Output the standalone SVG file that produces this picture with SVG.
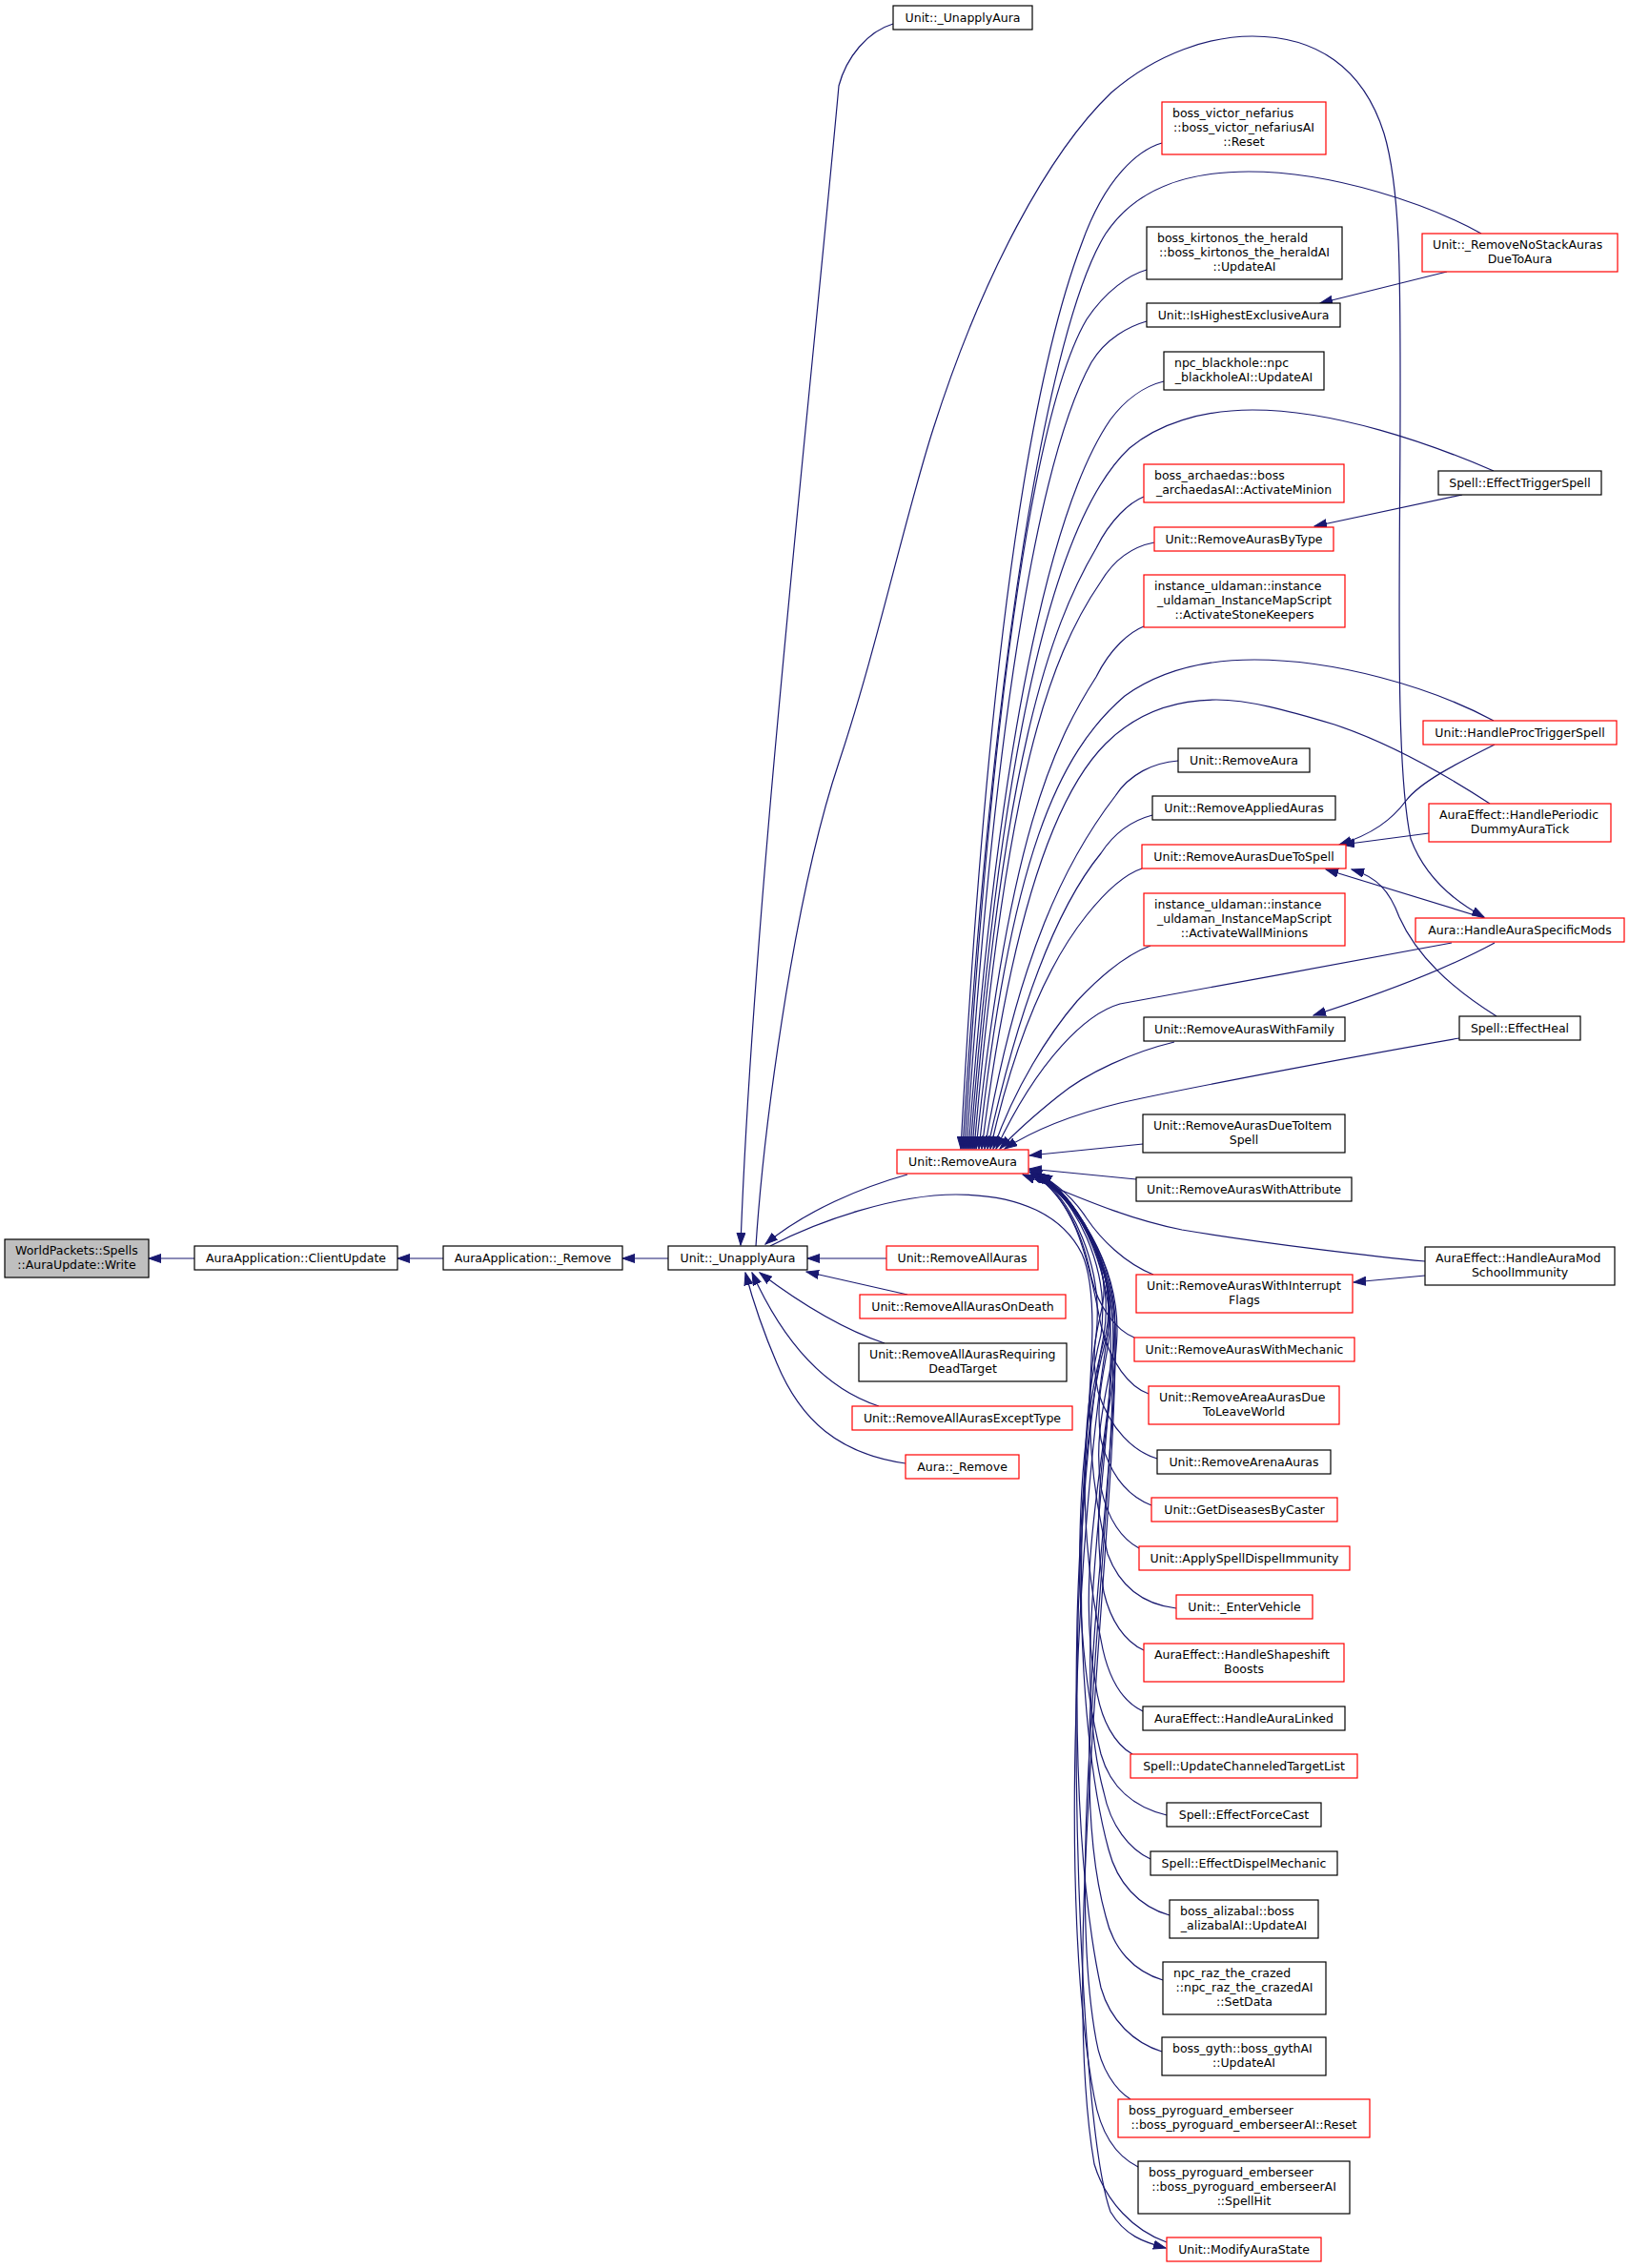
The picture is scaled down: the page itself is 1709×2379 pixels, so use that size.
<svg xmlns="http://www.w3.org/2000/svg" width="1709" height="2379" viewBox="0 0 1709 2379">
<style>
rect.b{fill:#fff;stroke:#000;stroke-width:1.2}
rect.r{fill:#fff;stroke:#f00;stroke-width:1.2}
rect.g{fill:#bfbfbf;stroke:#000;stroke-width:1.2}
text{font-family:'DejaVu Sans','Liberation Sans',sans-serif;font-size:12.5px;fill:#000}
.m{text-anchor:middle}
.s{text-anchor:start}
#edges path{fill:none;stroke:#191970;stroke-width:1.2;marker-end:url(#a)}
</style>
<defs>
<marker id="a" markerUnits="userSpaceOnUse" markerWidth="14" markerHeight="10" refX="13" refY="5" orient="auto">
<path d="M0,0.5 L13,5 L0,9.5 Z" fill="#191970" stroke="#191970" stroke-width="1"/>
</marker>
</defs>
<rect width="1709" height="2379" fill="#fff"/>
<g id="edges">
<path d="M204,1320 L156,1320"/>
<path d="M465,1320 L417,1320"/>
<path d="M701,1320 L653,1320"/>
<path d="M930,1320 L847,1320"/>
<path d="M952,1358 L846,1334"/>
<path d="M928,1409 C895,1398 850,1375 797,1335"/>
<path d="M922,1475 C870,1458 825,1415 789,1335"/>
<path d="M950,1535 C880,1525 840,1490 815,1430 C800,1395 790,1365 782,1335"/>
<path d="M952,1232 C905,1245 845,1270 803,1305"/>
<path d="M937,25 C910,33 888,60 880,90 C850,420 790,950 777,1306"/>
<path d="M793,1307 C800,1200 830,950 880,800 C920,680 950,540 979,450 C1030,290 1100,160 1166,97 C1215,55 1270,38 1314,38 C1380,38 1430,70 1452,140 C1470,200 1469,300 1469,420 C1469,600 1463,800 1480,880 C1495,920 1525,945 1557,962"/>
<path d="M808,1307 C860,1280 940,1253 1003,1253 C1070,1253 1115,1275 1135,1315 C1160,1370 1135,1500 1130,1700 C1125,1950 1140,2250 1165,2320 C1180,2345 1200,2352 1223,2358"/>
<path d="M1219,150 C1195,157 1160,185 1135,255 C1080,400 1035,700 1008,1205"/>
<path d="M1554,245 C1500,215 1400,180 1310,180 C1240,180 1190,200 1160,245 C1100,340 1040,700 1010,1205"/>
<path d="M1203,283 C1185,288 1160,305 1140,335 C1090,420 1042,700 1012,1205"/>
<path d="M1203,337 C1185,342 1160,355 1145,380 C1095,470 1045,720 1014,1205"/>
<path d="M1221,400 C1200,405 1180,420 1165,440 C1110,520 1050,740 1016,1205"/>
<path d="M1567,494 C1500,465 1400,430 1314,430 C1260,430 1215,445 1185,470 C1110,540 1052,760 1018,1205"/>
<path d="M1200,521 C1185,527 1165,545 1150,575 C1100,660 1052,800 1020,1205"/>
<path d="M1211,569 C1190,573 1170,585 1155,610 C1100,690 1055,820 1022,1205"/>
<path d="M1200,657 C1185,663 1165,680 1150,710 C1105,780 1058,880 1024,1205"/>
<path d="M1567,756 C1500,720 1400,692 1316,692 C1260,692 1215,705 1180,730 C1110,790 1060,900 1027,1205"/>
<path d="M1563,843 C1520,815 1460,780 1400,760 C1350,745 1310,734 1276,734 C1230,734 1190,750 1160,780 C1110,830 1062,950 1030,1205"/>
<path d="M1236,798 C1210,800 1185,812 1170,835 C1120,900 1068,1000 1033,1205"/>
<path d="M1209,855 C1190,860 1170,872 1155,895 C1110,950 1070,1050 1036,1205"/>
<path d="M1198,911 C1180,917 1160,935 1140,960 C1100,1010 1065,1090 1039,1205"/>
<path d="M1207,992 C1185,1000 1160,1018 1130,1050 C1100,1085 1065,1140 1042,1205"/>
<path d="M1523,989 C1450,1002 1250,1040 1175,1053 C1140,1063 1090,1110 1045,1205"/>
<path d="M1232,1093 C1190,1103 1140,1125 1110,1150 C1085,1170 1065,1188 1049,1205"/>
<path d="M1531,1089 C1450,1103 1250,1140 1175,1157 C1130,1168 1085,1185 1054,1205"/>
<path d="M1199,1200 L1080,1212"/>
<path d="M1192,1237 L1080,1226"/>
<path d="M1495,1323 C1450,1319 1330,1305 1240,1290 C1180,1278 1130,1255 1073,1232"/>
<path d="M1210,1337 C1180,1325 1155,1300 1140,1278 C1125,1255 1105,1238 1080,1227"/>
<path d="M1190,1403 C1170,1395 1152,1370 1145,1340 C1135,1290 1115,1250 1080,1229"/>
<path d="M1205,1462 C1185,1455 1165,1430 1155,1390 C1140,1310 1125,1255 1081,1230"/>
<path d="M1214,1530 C1190,1523 1165,1500 1152,1460 C1140,1400 1160,1380 1158,1350 C1155,1300 1125,1255 1082,1231"/>
<path d="M1208,1579 C1185,1570 1165,1550 1155,1510 C1147,1460 1165,1420 1165,1385 C1165,1320 1125,1252 1083,1231"/>
<path d="M1195,1624 C1178,1615 1162,1595 1155,1560 C1145,1490 1170,1440 1170,1390 C1170,1320 1125,1252 1084,1231"/>
<path d="M1234,1687 C1200,1683 1175,1665 1162,1630 C1140,1540 1140,1460 1150,1400 C1158,1330 1125,1255 1085,1231"/>
<path d="M1200,1731 C1180,1722 1165,1700 1158,1670 C1140,1560 1172,1460 1172,1395 C1172,1325 1128,1255 1086,1231"/>
<path d="M1199,1795 C1178,1785 1162,1760 1155,1720 C1130,1600 1135,1480 1155,1400 C1165,1330 1128,1255 1087,1231"/>
<path d="M1188,1840 C1170,1830 1155,1805 1150,1770 C1125,1640 1168,1500 1168,1400 C1168,1325 1128,1255 1088,1231"/>
<path d="M1224,1904 C1190,1896 1165,1875 1155,1840 C1120,1700 1130,1500 1160,1400 C1175,1330 1130,1255 1089,1231"/>
<path d="M1207,1950 C1185,1940 1165,1915 1158,1880 C1120,1740 1170,1520 1165,1395 C1162,1325 1130,1255 1089,1231"/>
<path d="M1227,2009 C1195,2000 1172,1975 1163,1940 C1125,1800 1125,1520 1162,1400 C1172,1330 1130,1255 1089,1231"/>
<path d="M1220,2077 C1190,2068 1168,2045 1160,2010 C1115,1850 1172,1560 1170,1400 C1170,1330 1130,1255 1090,1231"/>
<path d="M1219,2152 C1190,2143 1165,2120 1155,2085 C1115,1900 1128,1560 1158,1400 C1170,1330 1130,1255 1090,1231"/>
<path d="M1186,2202 C1170,2192 1155,2170 1150,2140 C1115,1950 1170,1600 1168,1400 C1168,1330 1130,1255 1090,1231"/>
<path d="M1194,2273 C1172,2262 1155,2240 1148,2200 C1110,2000 1130,1600 1162,1400 C1172,1330 1130,1255 1090,1231"/>
<path d="M1224,2352 C1190,2340 1160,2310 1148,2270 C1110,2050 1172,1600 1170,1400 C1170,1330 1130,1255 1091,1231"/>
<path d="M1518,285 L1385,318"/>
<path d="M1534,519 L1379,552"/>
<path d="M1568,781 C1530,800 1490,820 1475,840 C1460,860 1440,875 1405,886"/>
<path d="M1499,874 L1408,886"/>
<path d="M1557,963 L1391,912"/>
<path d="M1570,1066 C1520,1035 1485,1000 1468,962 C1458,935 1445,920 1418,912"/>
<path d="M1568,989 C1520,1015 1450,1042 1378,1065"/>
<path d="M1495,1338 L1420,1345"/>
</g>
<g id="n0"><rect class="g" x="5" y="1300" width="151" height="40"/><text class="s" x="16" y="1316">WorldPackets::Spells</text><text class="m" x="80.5" y="1331">::AuraUpdate::Write</text></g>
<g id="n1"><rect class="b" x="204" y="1307" width="213" height="25"/><text class="m" x="310.5" y="1324">AuraApplication::ClientUpdate</text></g>
<g id="n2"><rect class="b" x="465" y="1307" width="188" height="25"/><text class="m" x="559" y="1324">AuraApplication::_Remove</text></g>
<g id="n3"><rect class="b" x="701" y="1307" width="146" height="25"/><text class="m" x="774" y="1324">Unit::_UnapplyAura</text></g>
<g id="n4"><rect class="b" x="937" y="6" width="146" height="25"/><text class="m" x="1010" y="23">Unit::_UnapplyAura</text></g>
<g id="n5"><rect class="r" x="941" y="1206" width="138" height="25"/><text class="m" x="1010" y="1223">Unit::RemoveAura</text></g>
<g id="n6"><rect class="r" x="930" y="1307" width="159" height="25"/><text class="m" x="1009.5" y="1324">Unit::RemoveAllAuras</text></g>
<g id="n7"><rect class="r" x="902" y="1358" width="216" height="25"/><text class="m" x="1010" y="1375">Unit::RemoveAllAurasOnDeath</text></g>
<g id="n8"><rect class="b" x="901" y="1409" width="218" height="40"/><text class="s" x="912" y="1425">Unit::RemoveAllAurasRequiring</text><text class="m" x="1010" y="1440">DeadTarget</text></g>
<g id="n9"><rect class="r" x="894" y="1475" width="231" height="25"/><text class="m" x="1009.5" y="1492">Unit::RemoveAllAurasExceptType</text></g>
<g id="n10"><rect class="r" x="950" y="1526" width="119" height="25"/><text class="m" x="1009.5" y="1543">Aura::_Remove</text></g>
<g id="n11"><rect class="r" x="1219" y="107" width="172" height="55"/><text class="s" x="1230" y="123">boss_victor_nefarius</text><text class="m" x="1305" y="138">::boss_victor_nefariusAI</text><text class="m" x="1305" y="153">::Reset</text></g>
<g id="n12"><rect class="b" x="1203" y="238" width="205" height="55"/><text class="s" x="1214" y="254">boss_kirtonos_the_herald</text><text class="m" x="1305.5" y="269">::boss_kirtonos_the_heraldAI</text><text class="m" x="1305.5" y="284">::UpdateAI</text></g>
<g id="n13"><rect class="b" x="1203" y="318" width="203" height="25"/><text class="m" x="1304.5" y="335">Unit::IsHighestExclusiveAura</text></g>
<g id="n14"><rect class="b" x="1221" y="369" width="168" height="40"/><text class="s" x="1232" y="385">npc_blackhole::npc</text><text class="m" x="1305" y="400">_blackholeAI::UpdateAI</text></g>
<g id="n15"><rect class="r" x="1200" y="487" width="210" height="40"/><text class="s" x="1211" y="503">boss_archaedas::boss</text><text class="m" x="1305" y="518">_archaedasAI::ActivateMinion</text></g>
<g id="n16"><rect class="r" x="1211" y="553" width="188" height="25"/><text class="m" x="1305" y="570">Unit::RemoveAurasByType</text></g>
<g id="n17"><rect class="r" x="1200" y="603" width="211" height="55"/><text class="s" x="1211" y="619">instance_uldaman::instance</text><text class="m" x="1305.5" y="634">_uldaman_InstanceMapScript</text><text class="m" x="1305.5" y="649">::ActivateStoneKeepers</text></g>
<g id="n18"><rect class="b" x="1236" y="785" width="138" height="25"/><text class="m" x="1305" y="802">Unit::RemoveAura</text></g>
<g id="n19"><rect class="b" x="1209" y="835" width="192" height="25"/><text class="m" x="1305" y="852">Unit::RemoveAppliedAuras</text></g>
<g id="n20"><rect class="r" x="1198" y="886" width="214" height="25"/><text class="m" x="1305" y="903">Unit::RemoveAurasDueToSpell</text></g>
<g id="n21"><rect class="r" x="1200" y="937" width="211" height="55"/><text class="s" x="1211" y="953">instance_uldaman::instance</text><text class="m" x="1305.5" y="968">_uldaman_InstanceMapScript</text><text class="m" x="1305.5" y="983">::ActivateWallMinions</text></g>
<g id="n22"><rect class="b" x="1200" y="1067" width="211" height="25"/><text class="m" x="1305.5" y="1084">Unit::RemoveAurasWithFamily</text></g>
<g id="n23"><rect class="b" x="1199" y="1169" width="212" height="40"/><text class="s" x="1210" y="1185">Unit::RemoveAurasDueToItem</text><text class="m" x="1305" y="1200">Spell</text></g>
<g id="n24"><rect class="b" x="1192" y="1235" width="226" height="25"/><text class="m" x="1305" y="1252">Unit::RemoveAurasWithAttribute</text></g>
<g id="n25"><rect class="r" x="1192" y="1337" width="227" height="40"/><text class="s" x="1203" y="1353">Unit::RemoveAurasWithInterrupt</text><text class="m" x="1305.5" y="1368">Flags</text></g>
<g id="n26"><rect class="r" x="1190" y="1403" width="231" height="25"/><text class="m" x="1305.5" y="1420">Unit::RemoveAurasWithMechanic</text></g>
<g id="n27"><rect class="r" x="1205" y="1454" width="200" height="40"/><text class="s" x="1216" y="1470">Unit::RemoveAreaAurasDue</text><text class="m" x="1305" y="1485">ToLeaveWorld</text></g>
<g id="n28"><rect class="b" x="1214" y="1521" width="182" height="25"/><text class="m" x="1305" y="1538">Unit::RemoveArenaAuras</text></g>
<g id="n29"><rect class="r" x="1208" y="1571" width="195" height="25"/><text class="m" x="1305.5" y="1588">Unit::GetDiseasesByCaster</text></g>
<g id="n30"><rect class="r" x="1195" y="1622" width="221" height="25"/><text class="m" x="1305.5" y="1639">Unit::ApplySpellDispelImmunity</text></g>
<g id="n31"><rect class="r" x="1234" y="1673" width="143" height="25"/><text class="m" x="1305.5" y="1690">Unit::_EnterVehicle</text></g>
<g id="n32"><rect class="r" x="1200" y="1724" width="210" height="40"/><text class="s" x="1211" y="1740">AuraEffect::HandleShapeshift</text><text class="m" x="1305" y="1755">Boosts</text></g>
<g id="n33"><rect class="b" x="1199" y="1790" width="212" height="25"/><text class="m" x="1305" y="1807">AuraEffect::HandleAuraLinked</text></g>
<g id="n34"><rect class="r" x="1186" y="1840" width="238" height="25"/><text class="m" x="1305" y="1857">Spell::UpdateChanneledTargetList</text></g>
<g id="n35"><rect class="b" x="1224" y="1891" width="162" height="25"/><text class="m" x="1305" y="1908">Spell::EffectForceCast</text></g>
<g id="n36"><rect class="b" x="1207" y="1942" width="196" height="25"/><text class="m" x="1305" y="1959">Spell::EffectDispelMechanic</text></g>
<g id="n37"><rect class="b" x="1227" y="1993" width="156" height="40"/><text class="s" x="1238" y="2009">boss_alizabal::boss</text><text class="m" x="1305" y="2024">_alizabalAI::UpdateAI</text></g>
<g id="n38"><rect class="b" x="1220" y="2058" width="171" height="55"/><text class="s" x="1231" y="2074">npc_raz_the_crazed</text><text class="m" x="1305.5" y="2089">::npc_raz_the_crazedAI</text><text class="m" x="1305.5" y="2104">::SetData</text></g>
<g id="n39"><rect class="b" x="1219" y="2137" width="172" height="40"/><text class="s" x="1230" y="2153">boss_gyth::boss_gythAI</text><text class="m" x="1305" y="2168">::UpdateAI</text></g>
<g id="n40"><rect class="r" x="1173" y="2202" width="264" height="40"/><text class="s" x="1184" y="2218">boss_pyroguard_emberseer</text><text class="m" x="1305" y="2233">::boss_pyroguard_emberseerAI::Reset</text></g>
<g id="n41"><rect class="b" x="1194" y="2267" width="222" height="55"/><text class="s" x="1205" y="2283">boss_pyroguard_emberseer</text><text class="m" x="1305" y="2298">::boss_pyroguard_emberseerAI</text><text class="m" x="1305" y="2313">::SpellHit</text></g>
<g id="n42"><rect class="r" x="1224" y="2347" width="162" height="25"/><text class="m" x="1305" y="2364">Unit::ModifyAuraState</text></g>
<g id="n43"><rect class="r" x="1492" y="245" width="205" height="40"/><text class="s" x="1503" y="261">Unit::_RemoveNoStackAuras</text><text class="m" x="1594.5" y="276">DueToAura</text></g>
<g id="n44"><rect class="b" x="1509" y="494" width="171" height="25"/><text class="m" x="1594.5" y="511">Spell::EffectTriggerSpell</text></g>
<g id="n45"><rect class="r" x="1493" y="756" width="203" height="25"/><text class="m" x="1594.5" y="773">Unit::HandleProcTriggerSpell</text></g>
<g id="n46"><rect class="r" x="1499" y="843" width="191" height="40"/><text class="s" x="1510" y="859">AuraEffect::HandlePeriodic</text><text class="m" x="1594.5" y="874">DummyAuraTick</text></g>
<g id="n47"><rect class="r" x="1485" y="963" width="219" height="25"/><text class="m" x="1594.5" y="980">Aura::HandleAuraSpecificMods</text></g>
<g id="n48"><rect class="b" x="1531" y="1066" width="127" height="25"/><text class="m" x="1594.5" y="1083">Spell::EffectHeal</text></g>
<g id="n49"><rect class="b" x="1495" y="1308" width="199" height="40"/><text class="s" x="1506" y="1324">AuraEffect::HandleAuraMod</text><text class="m" x="1594.5" y="1339">SchoolImmunity</text></g>
</svg>
